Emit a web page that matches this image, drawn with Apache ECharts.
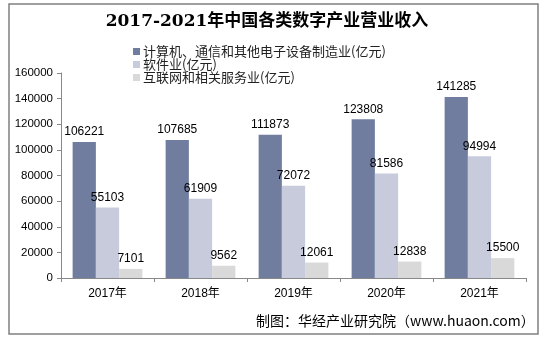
<!DOCTYPE html>
<html><head><meta charset="utf-8">
<script src="https://cdn.jsdelivr.net/npm/echarts@6/dist/echarts.min.js"></script>
<style>html,body{margin:0;padding:0;background:#fff}#c{width:544px;height:339px}</style>
</head><body><div id="c"></div>
<script>
const categories = ['2017年','2018年','2019年','2020年','2021年'];
const seriesNames = ['计算机、通信和其他电子设备制造业(亿元)','软件业(亿元)','互联网和相关服务业(亿元)'];
const manufacturing = [106221,107685,111873,123808,141285];
const software = [55103,61909,72072,81586,94994];
const internet = [7101,9562,12061,12838,15500];
const yTicks = [0,20000,40000,60000,80000,100000,120000,140000,160000];

const chart = echarts.init(document.getElementById('c'));
const colors = ['#717d9f','#c8cbdc','#d9d9d9'];
const lbl = {show:true,position:'top',color:'#000',fontSize:12,fontFamily:'Liberation Sans, Arial',distance:4};
chart.setOption({
  animation:false,
  title:{text:'2017-2021年中国各类数字产业营业收入',left:262,top:8,textAlign:'center',
    textStyle:{fontSize:17,fontWeight:'bold',color:'#000',fontFamily:'DejaVu Serif, Noto Sans CJK SC'}},
  graphic:[
    {type:'rect',shape:{x:9,y:4,width:529,height:330},style:{fill:'none',stroke:'#808080',lineWidth:1.5}},
    {type:'text',left:256,top:314,style:{text:'制图：华经产业研究院（www.huaon.com）',fontSize:14,fill:'#000',fontFamily:'Noto Sans CJK SC'}}
  ],
  legend:{orient:'vertical',left:128,top:40,itemWidth:7,itemHeight:7,itemGap:0,icon:'rect',
    data:seriesNames,textStyle:{fontSize:13,color:'#222',fontFamily:'Noto Sans CJK SC',padding:[0,0,0,-2],lineHeight:13}},
  grid:{left:61,right:18,top:73,bottom:61},
  xAxis:{type:'category',data:categories,
    axisLine:{lineStyle:{color:'#888'}},axisTick:{show:true,length:4,lineStyle:{color:'#888'}},
    axisLabel:{color:'#000',fontSize:12,margin:10,fontFamily:'Liberation Sans, Noto Sans CJK SC'}},
  yAxis:{type:'value',min:0,max:160000,interval:20000,
    axisLine:{show:true,lineStyle:{color:'#888'}},axisTick:{show:true,length:4,lineStyle:{color:'#888'}},
    splitLine:{show:false},
    axisLabel:{color:'#000',fontSize:11.5,margin:8,fontFamily:'Liberation Sans, Arial',
      formatter:v=>yTicks.includes(v)?String(v):''}},
  series:[
    {name:seriesNames[0],type:'bar',data:manufacturing,itemStyle:{color:colors[0]},barGap:'0%',barCategoryGap:'25%',label:lbl},
    {name:seriesNames[1],type:'bar',data:software,itemStyle:{color:colors[1]},barGap:'0%',barCategoryGap:'25%',label:lbl},
    {name:seriesNames[2],type:'bar',data:internet,itemStyle:{color:colors[2]},barGap:'0%',barCategoryGap:'25%',label:lbl}
  ]
});
</script></body></html>
